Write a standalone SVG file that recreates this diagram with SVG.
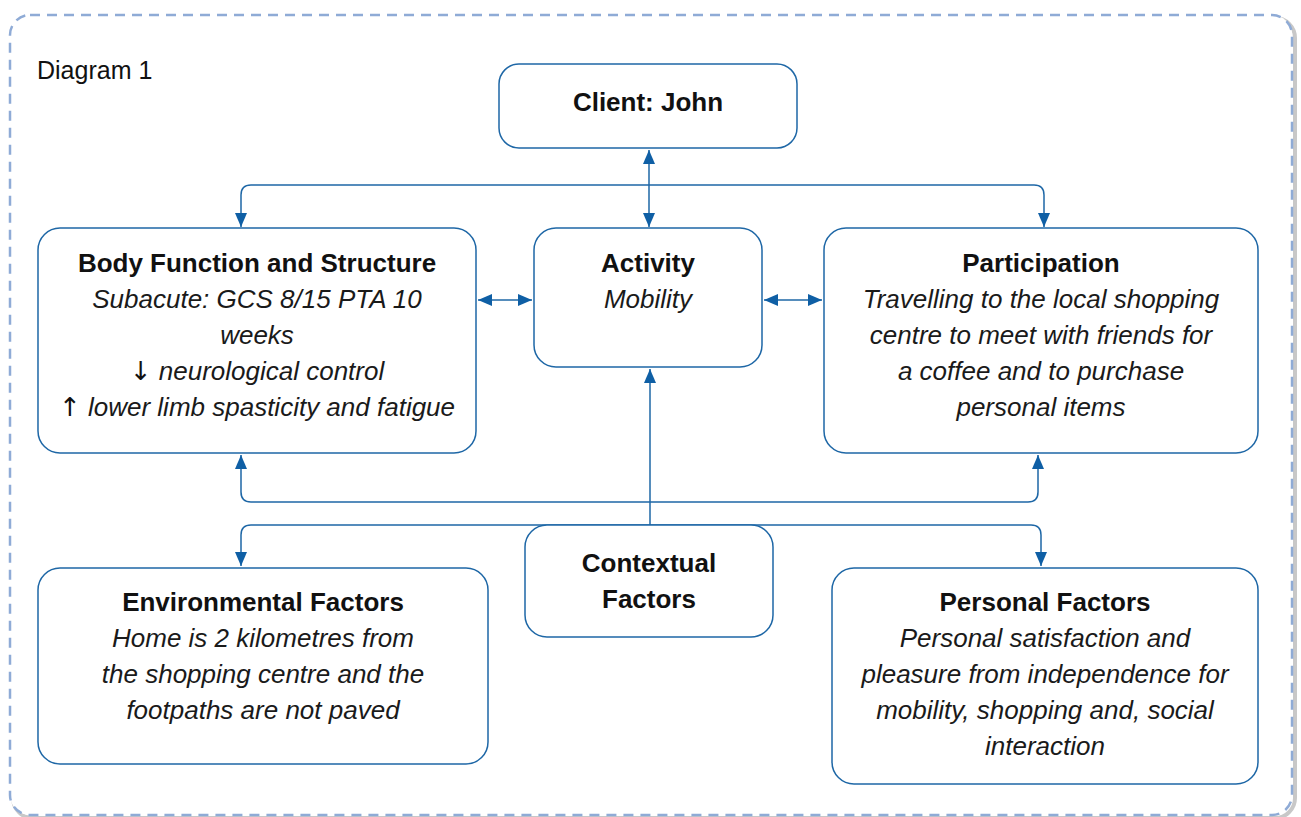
<svg xmlns="http://www.w3.org/2000/svg" width="1301" height="817" viewBox="0 0 1301 817">
<style>
.box{fill:#fff;stroke:#1e67a6;stroke-width:1.5}
.t{font-family:"Liberation Sans",Arial,sans-serif;font-size:26px;fill:#111;text-anchor:middle}
.b{font-weight:bold}
.i{font-style:italic;fill:#1a1a1a}
.ar{font-family:"DejaVu Sans",sans-serif;font-style:normal;fill:#111}
.c{fill:none;stroke:#1e67a6;stroke-width:1.5}
</style>
<defs>
<marker id="ah" viewBox="0 0 14 12" refX="14" refY="6" markerWidth="14" markerHeight="12" markerUnits="userSpaceOnUse" orient="auto-start-reverse">
<path d="M0,0 L14,6 L0,12 Z" fill="#0f5fa5"/>
</marker>
</defs>
<rect width="1301" height="817" fill="#fff"/>
<rect x="13" y="18" width="1282" height="800" rx="20" fill="none" stroke="#c8c8c8" stroke-width="4"/>
<rect x="10" y="15" width="1282" height="800" rx="20" fill="#fff" stroke="#8fabd6" stroke-width="2.5" stroke-dasharray="10,7"/>
<text x="37" y="79" style="font-family:'Liberation Sans',Arial,sans-serif;font-size:25px;fill:#111">Diagram 1</text>

<g id="connectors">
<path class="c" d="M649,150 V227" marker-start="url(#ah)" marker-end="url(#ah)"/>
<path class="c" d="M241,227 V195 Q241,185 251,185 H1034 Q1044,185 1044,195 V227" marker-start="url(#ah)" marker-end="url(#ah)"/>
<path class="c" d="M478,300 H532" marker-start="url(#ah)" marker-end="url(#ah)"/>
<path class="c" d="M764,300 H822" marker-start="url(#ah)" marker-end="url(#ah)"/>
<path class="c" d="M650,525 V369" marker-end="url(#ah)"/>
<path class="c" d="M241,455 V492 Q241,502 251,502 H1028 Q1038,502 1038,492 V455" marker-start="url(#ah)" marker-end="url(#ah)"/>
<path class="c" d="M241,566 V535 Q241,525 251,525 H1031 Q1041,525 1041,535 V566" marker-start="url(#ah)" marker-end="url(#ah)"/>
</g>

<g id="client">
<rect class="box" x="499" y="64" width="298" height="84" rx="20"/>
<text class="t b" x="648" y="111">Client: John</text>
</g>
<g id="body">
<rect class="box" x="38" y="228" width="438" height="225" rx="22"/>
<text class="t b" x="257" y="272">Body Function and Structure</text>
<text class="t i" x="257" y="308">Subacute: GCS 8/15 PTA 10</text>
<text class="t i" x="257" y="344">weeks</text>
<text class="t" x="257" y="380"><tspan class="ar">↓</tspan><tspan class="i"> neurological control</tspan></text>
<text class="t" x="257" y="416"><tspan class="ar">↑</tspan><tspan class="i"> lower limb spasticity and fatigue</tspan></text>
</g>
<g id="activity">
<rect class="box" x="534" y="228" width="228" height="139" rx="22"/>
<text class="t b" x="648" y="272">Activity</text>
<text class="t i" x="648" y="308">Mobility</text>
</g>
<g id="participation">
<rect class="box" x="824" y="228" width="434" height="225" rx="22"/>
<text class="t b" x="1041" y="272">Participation</text>
<text class="t i" x="1041" y="308">Travelling to the local shopping</text>
<text class="t i" x="1041" y="344">centre to meet with friends for</text>
<text class="t i" x="1041" y="380">a coffee and to purchase</text>
<text class="t i" x="1041" y="416">personal items</text>
</g>
<g id="contextual">
<rect class="box" x="525" y="525" width="248" height="112" rx="22"/>
<text class="t b" x="649" y="572">Contextual</text>
<text class="t b" x="649" y="608">Factors</text>
</g>
<g id="environmental">
<rect class="box" x="38" y="568" width="450" height="196" rx="22"/>
<text class="t b" x="263" y="611">Environmental Factors</text>
<text class="t i" x="263" y="647">Home is 2 kilometres from</text>
<text class="t i" x="263" y="683">the shopping centre and the</text>
<text class="t i" x="263" y="719">footpaths are not paved</text>
</g>
<g id="personal">
<rect class="box" x="832" y="568" width="426" height="216" rx="22"/>
<text class="t b" x="1045" y="611">Personal Factors</text>
<text class="t i" x="1045" y="647">Personal satisfaction and</text>
<text class="t i" x="1045" y="683">pleasure from independence for</text>
<text class="t i" x="1045" y="719">mobility, shopping and, social</text>
<text class="t i" x="1045" y="755">interaction</text>
</g>
</svg>
